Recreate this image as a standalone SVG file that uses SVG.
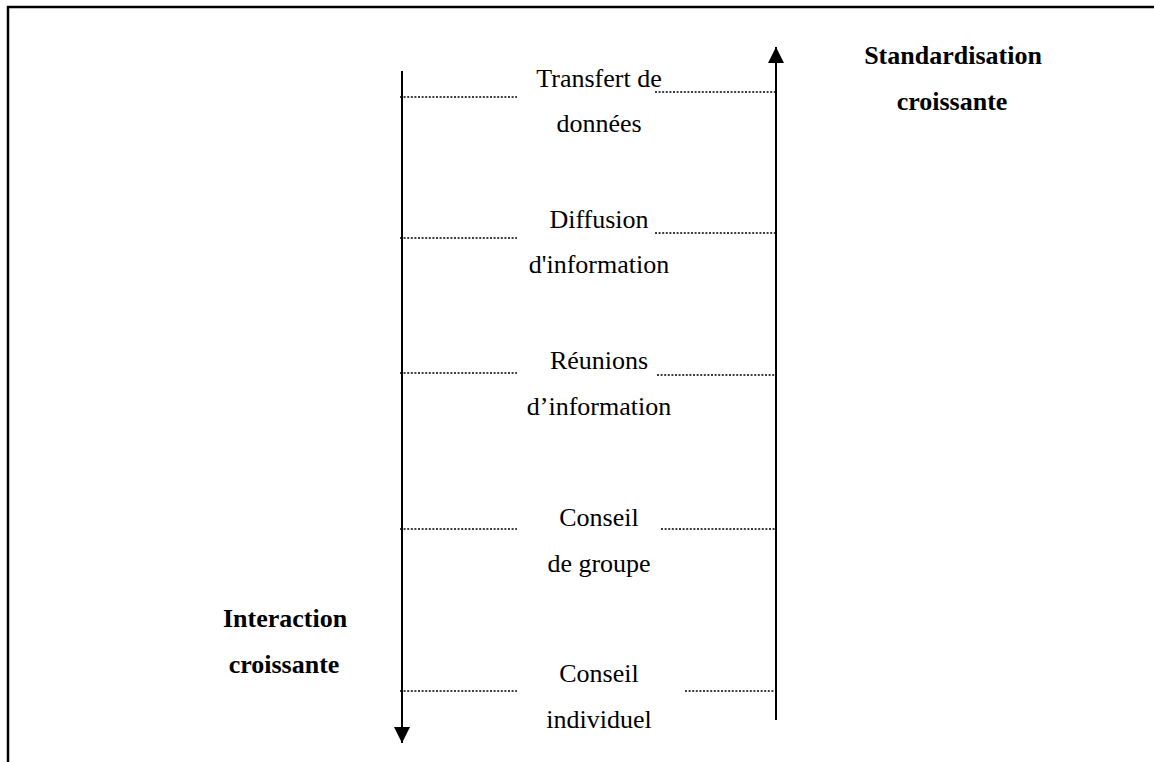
<svg xmlns="http://www.w3.org/2000/svg" width="1154" height="762" viewBox="0 0 1154 762">
  <style>
    .frame { fill: none; stroke: #000; stroke-width: 2.5; }
    .axis { stroke: #000; stroke-width: 2; fill: none; }
    .dot { stroke: #000; stroke-width: 1.4; stroke-dasharray: 2 1.6; fill: none; }
    .lvl { font-family: "Liberation Serif", "Times New Roman", serif; font-size: 26px; fill: #000; text-anchor: middle; }
    .ax { font-family: "Liberation Serif", "Times New Roman", serif; font-size: 26px; font-weight: bold; fill: #000; text-anchor: middle; }
  </style>
  <defs>
    <marker id="head" viewBox="0 0 16 16" refX="16" refY="8" markerWidth="16" markerHeight="16" markerUnits="userSpaceOnUse" orient="auto">
      <path d="M0,0 L16,8 L0,16 Z" fill="#000"/>
    </marker>
  </defs>

  <rect width="1154" height="762" fill="#fff"/>
  <!-- page frame, open on the right and bottom -->
  <path class="frame" d="M8,762 V7 H1154"/>

  <g id="connectors">
    <!-- interaction axis (downwards) and standardisation axis (upwards) -->
    <line class="axis" x1="402" y1="71" x2="402" y2="743" marker-end="url(#head)"/>
    <line class="axis" x1="776" y1="720" x2="776" y2="47" marker-end="url(#head)"/>
    <!-- level guides -->
    <line class="dot" x1="400" y1="97" x2="517" y2="97"/>
    <line class="dot" x1="655" y1="92" x2="777" y2="92"/>
    <line class="dot" x1="400" y1="238" x2="517" y2="238"/>
    <line class="dot" x1="655" y1="233" x2="777" y2="233"/>
    <line class="dot" x1="400" y1="373" x2="517" y2="373"/>
    <line class="dot" x1="657" y1="375" x2="777" y2="375"/>
    <line class="dot" x1="400" y1="529" x2="517" y2="529"/>
    <line class="dot" x1="661" y1="529" x2="777" y2="529"/>
    <line class="dot" x1="400" y1="691" x2="517" y2="691"/>
    <line class="dot" x1="685" y1="691" x2="777" y2="691"/>
  </g>

  <g id="transfert">
    <text class="lvl" x="599" y="87">Transfert de</text>
    <text class="lvl" x="599" y="132">données</text>
  </g>
  <g id="diffusion">
    <text class="lvl" x="599" y="228">Diffusion</text>
    <text class="lvl" x="599" y="273">d'information</text>
  </g>
  <g id="reunions">
    <text class="lvl" x="599" y="369">Réunions</text>
    <text class="lvl" x="599" y="415">d’information</text>
  </g>
  <g id="conseil-groupe">
    <text class="lvl" x="599" y="526">Conseil</text>
    <text class="lvl" x="599" y="572">de groupe</text>
  </g>
  <g id="conseil-individuel">
    <text class="lvl" x="599" y="682">Conseil</text>
    <text class="lvl" x="599" y="728">individuel</text>
  </g>

  <g id="standardisation">
    <text class="ax" x="953" y="64">Standardisation</text>
    <text class="ax" x="952" y="110">croissante</text>
  </g>
  <g id="interaction">
    <text class="ax" x="285" y="627">Interaction</text>
    <text class="ax" x="284" y="673">croissante</text>
  </g>
</svg>
